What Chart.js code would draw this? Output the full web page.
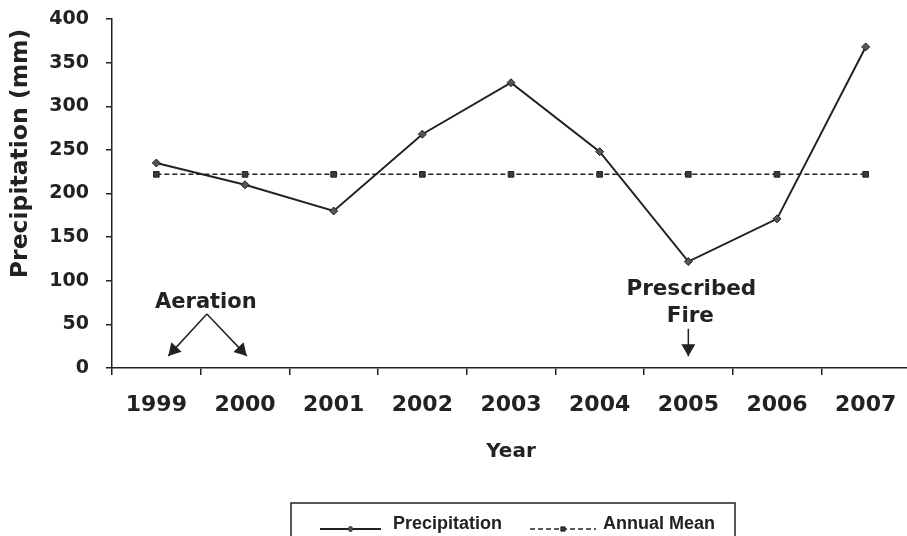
<!DOCTYPE html>
<html>
<head>
<meta charset="utf-8">
<script src="https://cdn.jsdelivr.net/npm/chart.js@4/dist/chart.umd.min.js"></script>
<style>
  html, body { margin: 0; padding: 0; background: #fff; overflow: hidden; }
  #wrap { width: 915px; height: 536px; }
</style>
</head>
<body>
<div id="wrap"><canvas id="myChart"></canvas></div>
<script>
const years = ["1999", "2000", "2001", "2002", "2003", "2004", "2005", "2006", "2007"];
const precipitation = [235, 210, 180, 268, 327, 248, 122, 171, 368];
const annualMean = [222, 222, 222, 222, 222, 222, 222, 222, 222];
const yTicks = [0, 50, 100, 150, 200, 250, 300, 350, 400];

const ink = "#222";

// y title, arrows + text notes, and the boxed legend at the bottom
const notes = {
  id: "notes",
  afterDraw(chart) {
    const c = chart.ctx;
    const x = chart.scales.x;
    const y = chart.scales.y;
    c.save();
    c.fillStyle = ink;
    c.strokeStyle = ink;
    c.textAlign = "center";
    c.textBaseline = "middle";

    // axis title sits above the middle of the axis in the original
    c.save();
    c.translate(21, y.getPixelForValue(246));
    c.rotate(-Math.PI / 2);
    c.font = "bold 23.5px 'DejaVu Sans'";
    c.fillText("Precipitation (mm)", 0, 0);
    c.restore();

    const arrow = (x0, y0, x1, y1) => {
      c.lineWidth = 1.5;
      c.beginPath();
      c.moveTo(x0, y0);
      c.lineTo(x1, y1);
      c.stroke();
      const a = Math.atan2(y1 - y0, x1 - x0);
      const len = 12, w = 7;
      c.beginPath();
      c.moveTo(x1, y1);
      c.lineTo(x1 - len * Math.cos(a) + w * Math.sin(a), y1 - len * Math.sin(a) - w * Math.cos(a));
      c.lineTo(x1 - len * Math.cos(a) - w * Math.sin(a), y1 - len * Math.sin(a) + w * Math.cos(a));
      c.closePath();
      c.fill();
    };

    // Aeration, between 1999 and 2000
    const ax = x.getPixelForValue(0.57);
    c.font = "bold 21px 'DejaVu Sans'";
    c.fillText("Aeration", ax - 1, y.getPixelForValue(75));
    arrow(ax, y.getPixelForValue(62), x.getPixelForValue(0.135), y.getPixelForValue(14));
    arrow(ax, y.getPixelForValue(62), x.getPixelForValue(1.02), y.getPixelForValue(14));

    // Prescribed Fire over 2005
    const fx = x.getPixelForValue(6);
    c.font = "bold 21.5px 'DejaVu Sans'";
    c.fillText("Prescribed", fx + 3, y.getPixelForValue(90));
    c.fillText("Fire", fx + 2, y.getPixelForValue(59));
    arrow(fx, y.getPixelForValue(45), fx, y.getPixelForValue(13.5));

    // legend box
    c.lineWidth = 1.5;
    c.strokeRect(291, 503, 444, 40);
    c.font = "bold 18px 'Liberation Sans'";
    c.textAlign = "left";
    c.textBaseline = "alphabetic";
    const items = [
      { ds: chart.data.datasets[0], x0: 320, x1: 381, tx: 393 },
      { ds: chart.data.datasets[1], x0: 530, x1: 596, tx: 603 }
    ];
    items.forEach(it => {
      const ly = 529;
      c.strokeStyle = it.ds.borderColor;
      c.lineWidth = it.ds.borderWidth;
      c.setLineDash(it.ds.borderDash || []);
      c.beginPath();
      c.moveTo(it.x0, ly);
      c.lineTo(it.x1, ly);
      c.stroke();
      c.setLineDash([]);
      c.fillStyle = it.ds.pointBackgroundColor;
      c.strokeStyle = it.ds.pointBorderColor;
      c.lineWidth = 1;
      Chart.helpers.drawPoint(c, { pointStyle: it.ds.pointStyle, radius: 3, borderWidth: 1 }, (it.x0 + it.x1) / 2, ly);
      c.fillStyle = ink;
      c.fillText(it.ds.label, it.tx, ly);
    });
    c.restore();
  }
};

new Chart(document.getElementById("myChart"), {
  type: "line",
  data: {
    labels: years,
    datasets: [
      {
        label: "Precipitation",
        data: precipitation,
        borderColor: ink,
        borderWidth: 2,
        pointStyle: "rectRot",
        pointRadius: 4,
        pointBackgroundColor: "#555",
        pointBorderColor: ink,
        pointBorderWidth: 1,
        tension: 0
      },
      {
        label: "Annual Mean",
        data: annualMean,
        borderColor: ink,
        borderWidth: 1.5,
        borderDash: [5, 3],
        pointStyle: "rect",
        pointRadius: 4,
        pointBackgroundColor: "#3a3a3a",
        pointBorderColor: ink,
        pointBorderWidth: 1,
        tension: 0
      }
    ]
  },
  options: {
    responsive: true,
    maintainAspectRatio: false,
    animation: false,
    layout: { padding: { top: 0, right: 2, bottom: 72, left: 0 } },
    scales: {
      x: {
        offset: true,
        grid: { offset: true, drawOnChartArea: false, tickLength: 7, color: ink, lineWidth: 1.5 },
        border: { color: ink, width: 1.5 },
        ticks: { color: ink, font: { family: "DejaVu Sans", weight: "bold", size: 22 }, padding: 17, maxRotation: 0, autoSkip: false },
        title: { display: true, text: "Year", color: ink, font: { family: "DejaVu Sans", weight: "bold", size: 20 }, padding: { top: 4.5, bottom: 0 } }
      },
      y: {
        min: 0,
        max: 400,
        afterFit(scale) {
          scale.width = 112;
          scale.paddingTop = 19;
          scale.paddingBottom = 0;
        },
        afterBuildTicks(scale) { scale.ticks = yTicks.map(v => ({ value: v })); },
        grid: { drawOnChartArea: false, tickLength: 6, color: ink, lineWidth: 1.5 },
        border: { color: ink, width: 1.5 },
        ticks: { color: ink, font: { family: "DejaVu Sans", weight: "bold", size: 19 }, padding: 17 }
      }
    },
    plugins: {
      legend: { display: false },
      tooltip: { enabled: false }
    }
  },
  plugins: [notes]
});
</script>
</body>
</html>
